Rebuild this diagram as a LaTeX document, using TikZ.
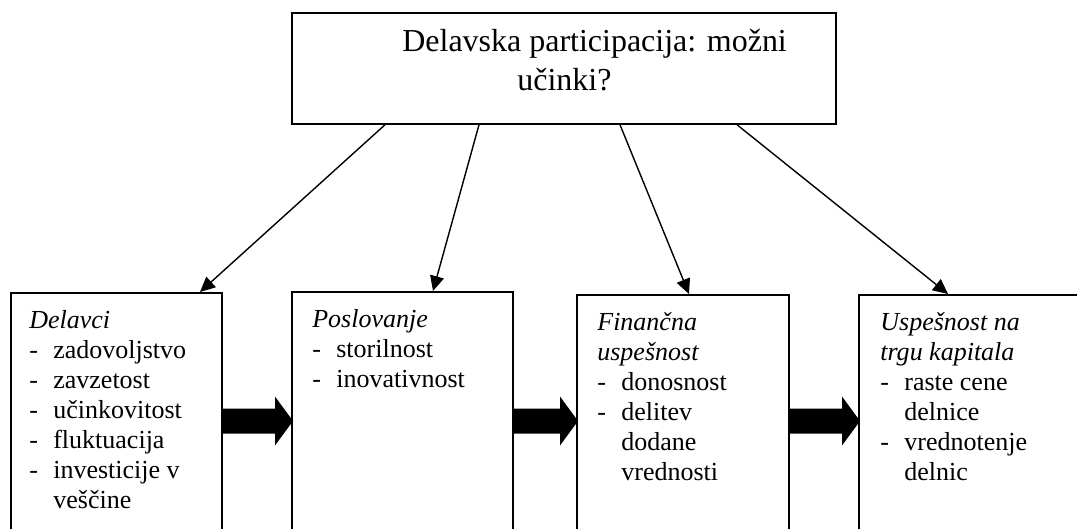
\documentclass[tikz,border=0pt]{standalone}
\usepackage{fontspec}
\setmainfont{Liberation Serif}
\usetikzlibrary{calc,arrows.meta}
\def\px{0.02cm}
\newcommand{\itm}[1]{\makebox[0.48cm][l]{-}#1}
\newcommand{\cnt}[1]{\hspace*{0.48cm}#1}

\begin{document}
\begin{tikzpicture}[x=\px, y=-\px,
    box/.style={draw, line width=1pt, inner sep=0pt, anchor=north west},
    boxtext/.style={anchor=north west, inner sep=0pt, align=left,
                    font=\fontsize{14.8}{17.1}\selectfont},
    conn/.style={line width=0.8pt, -{Triangle[length=0.3cm, width=0.28cm]}},
    bigarrow/.style={fill=black}]
  \useasboundingbox (0,0) rectangle (1077,528);
  \clip (0,0) rectangle (1077,528);
  % top box
  \node[box, minimum width=544*\px, minimum height=111*\px] (part) at (291,12) {};
  \node[anchor=north west, inner sep=0pt, align=left,
        font=\fontsize{18.2}{22.2}\selectfont] (part-txt) at (402,29)
        {Delavska participacija: možni\\\hspace*{2.3cm}učinki?};
  % bottom boxes, cut by the lower edge
  \node[box, minimum width=211*\px, minimum height=280*\px] (delavci) at (10,292) {};
  \node[box, minimum width=221*\px, minimum height=280*\px] (poslovanje) at (291,291) {};
  \node[box, minimum width=212*\px, minimum height=280*\px] (finance) at (576,294) {};
  \node[box, minimum width=260*\px, minimum height=280*\px] (trg) at (858,294) {};
  \node[boxtext] (delavci-txt) at ([shift={(19,18)}]delavci.north west)
    {\textit{Delavci}\\\itm{zadovoljstvo}\\\itm{zavzetost}\\\itm{učinkovitost}\\
     \itm{fluktuacija}\\\itm{investicije v}\\\cnt{veščine}};
  \node[boxtext] (poslovanje-txt) at ([shift={(21,18)}]poslovanje.north west)
    {\textit{Poslovanje}\\\itm{storilnost}\\\itm{inovativnost}};
  \node[boxtext] (finance-txt) at ([shift={(21,18)}]finance.north west)
    {\textit{Finančna}\\\textit{uspešnost}\\\itm{donosnost}\\\itm{delitev}\\\cnt{dodane}\\\cnt{vrednosti}};
  \node[boxtext] (trg-txt) at ([shift={(22,18)}]trg.north west)
    {\textit{Uspešnost na}\\\textit{trgu kapitala}\\\itm{raste cene}\\\cnt{delnice}\\\itm{vrednotenje}\\\cnt{delnic}};
  % arrows from the question
  \foreach \dx/\n/\ex in {94/delavci/190, 188/poslovanje/142, 329/finance/113, 446/trg/90}
    \draw[conn] ([shift={(\dx,0)}]part.south west) -- ([shift={(\ex,0)}]\n.north west);
  % thick arrows between boxes
  \coordinate (mid) at (0,421);
  \foreach \i/\j in {delavci/poslovanje, poslovanje/finance, finance/trg}{%
    \coordinate (s) at (\i.north east |- mid);
    \coordinate (t) at ($(\j.north west |- mid)+(2,0)$);
    \fill[bigarrow] ($(s)+(0,-12.5)$) -- ($(t)+(-18,-12.5)$) -- ($(t)+(-18,-24.5)$) -- (t)
      -- ($(t)+(-18,24.5)$) -- ($(t)+(-18,12.5)$) -- ($(s)+(0,12.5)$) -- cycle;}
\end{tikzpicture}
\end{document}
